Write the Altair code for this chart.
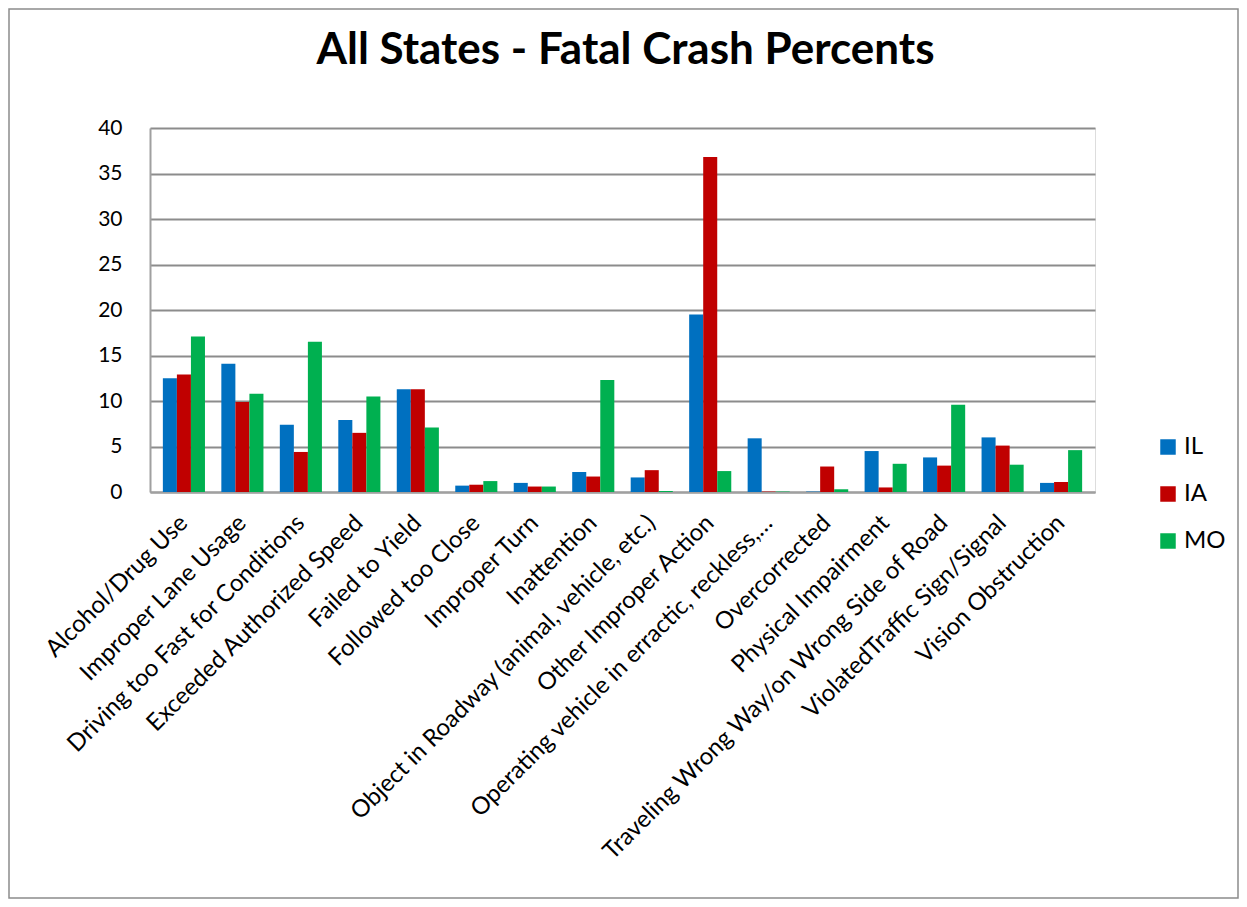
import altair as alt
import pandas as pd

categories = [
    "Alcohol/Drug Use",
    "Improper Lane Usage",
    "Driving too Fast for Conditions",
    "Exceeded Authorized Speed",
    "Failed to Yield",
    "Followed too Close",
    "Improper Turn",
    "Inattention",
    "Object in Roadway (animal, vehicle, etc.)",
    "Other Improper Action",
    "Operating vehicle in erractic, reckless,…",
    "Overcorrected",
    "Physical Impairment",
    "Traveling Wrong Way/on Wrong Side of Road",
    "ViolatedTraffic Sign/Signal",
    "Vision Obstruction",
]
series = ["IL", "IA", "MO"]
il_values = [12.5, 14.1, 7.4, 7.9, 11.3, 0.7, 1.0, 2.2, 1.6, 19.5, 5.9, 0.05, 4.5, 3.8, 6.0, 1.0]
ia_values = [12.9, 9.9, 4.4, 6.5, 11.3, 0.8, 0.6, 1.7, 2.4, 36.8, 0.05, 2.8, 0.5, 2.9, 5.1, 1.1]
mo_values = [17.1, 10.8, 16.5, 10.5, 7.1, 1.2, 0.6, 12.3, 0.1, 2.3, 0.05, 0.3, 3.1, 9.6, 3.0, 4.6]
colors = ["#0070C0", "#C00000", "#00B050"]
title_text = "All States - Fatal Crash Percents"

rows = []
for name, vals in zip(series, [il_values, ia_values, mo_values]):
    for c, v in zip(categories, vals):
        rows.append({"Cause": c, "State": name, "Percent": v})
df = pd.DataFrame(rows)

FONT = "Lato"
W, H = 945, 364

bars = alt.Chart(df).mark_bar().encode(
    x=alt.X("Cause:N", sort=categories,
            scale=alt.Scale(paddingInner=0.28, paddingOuter=0.22),
            axis=alt.Axis(title=None, labelAngle=-45, labelAlign="right",
                          labelBaseline="middle", labelFontSize=24, labelFont=FONT,
                          labelColor="#000000", labelPadding=27, ticks=False,
                          domainColor="#A0A0A0", domainWidth=2, labelLimit=700,
                          labelOverlap=False)),
    xOffset=alt.XOffset("State:N", sort=series),
    y=alt.Y("Percent:Q", scale=alt.Scale(domain=[0, 40]),
            axis=alt.Axis(title=None, values=list(range(0, 41, 5)), labelFontSize=21,
                          labelFont=FONT, labelColor="#000000", labelPadding=28,
                          ticks=False, domainColor="#A0A0A0", domainWidth=2,
                          gridColor="#8C8C8C", gridWidth=2)),
    color=alt.Color("State:N", sort=series,
                    scale=alt.Scale(domain=series, range=colors),
                    legend=alt.Legend(title=None, orient="none", legendX=1006,
                                      legendY=307, symbolType="square",
                                      symbolSize=240, labelFontSize=24,
                                      labelFont=FONT, labelColor="#000000",
                                      rowPadding=23, symbolStrokeWidth=0)),
)

frame = alt.Chart(pd.DataFrame({"a": [0]})).mark_rect(
    fill=None, stroke="#8C8C8C", strokeWidth=1.5
).encode(x=alt.value(-141), x2=alt.value(W + 143), y=alt.value(-119), y2=alt.value(H + 406))

title = alt.Chart(pd.DataFrame({"t": [title_text]})).mark_text(
    font=FONT, fontSize=44, fontWeight="bold", color="#000000",
    align="center", baseline="middle"
).encode(text="t:N", x=alt.value(W / 2 + 3), y=alt.value(-77))

chart = alt.layer(frame, bars, title).properties(
    width=W, height=H,
    autosize=alt.AutoSizeParams(type="none"),
    padding={"left": 142, "top": 120, "right": 144, "bottom": 407},
).configure_view(stroke=None).configure(background="white")

chart.save("out.html", embed_options={"renderer": "svg", "actions": False})
